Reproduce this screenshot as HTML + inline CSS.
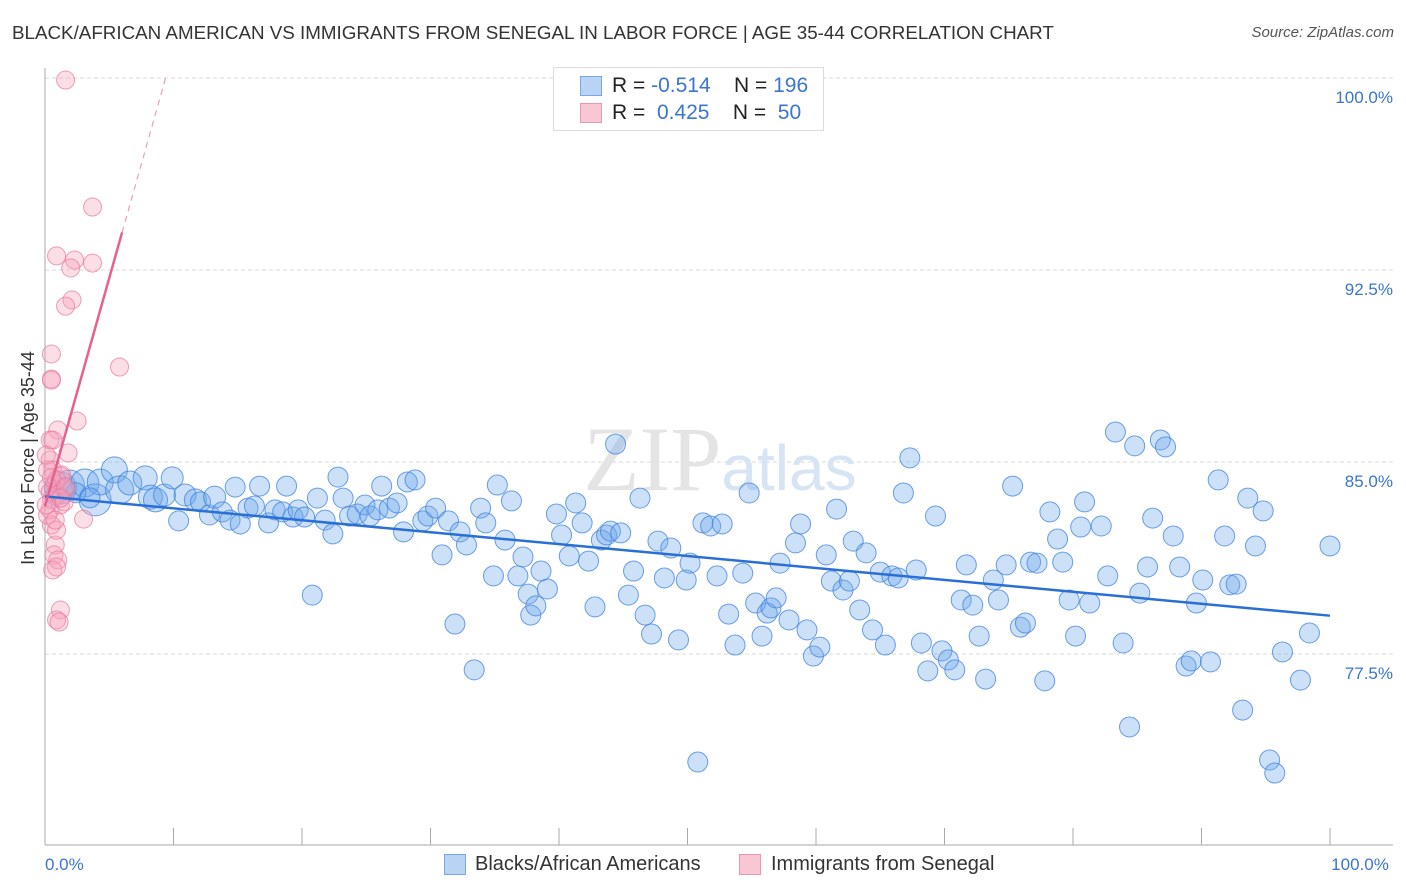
<!DOCTYPE html>
<html><head><meta charset="utf-8"><style>
body{margin:0;background:#fff;font-family:"Liberation Sans",sans-serif;}
#wrap{position:relative;width:1406px;height:892px;overflow:hidden;}
.t{position:absolute;white-space:nowrap;}
</style></head><body>
<div id="wrap">
<div class="t" style="left:12px;top:22px;font-size:18.8px;color:#333;">BLACK/AFRICAN AMERICAN VS IMMIGRANTS FROM SENEGAL IN LABOR FORCE | AGE 35-44 CORRELATION CHART</div>
<div class="t" style="right:12px;top:24px;font-size:15px;color:#555;font-style:italic;">Source: ZipAtlas.com</div>
<svg id="svg" width="1406" height="892" style="position:absolute;left:0;top:0"></svg>
</div>
<script>
const xTickLabels=["0.0%","100.0%"];
const yTicks=[100,92.5,85,77.5];
const yTickLabels=["100.0%","92.5%","85.0%","77.5%"];
const blueX=[1.2,1.9,3.1,3.9,4.3,5.4,5.8,6.6,7.8,8.2,8.6,9.3,9.9,10.4,10.9,11.7,12.1,12.8,13.2,13.8,14.4,14.8,15.2,15.8,16.3,16.7,17.4,17.9,18.5,18.8,19.3,19.7,20.2,20.8,21.2,21.8,22.4,22.8,23.2,23.7,24.3,24.9,25.3,25.9,26.2,26.8,27.4,27.9,28.2,28.8,29.4,29.8,30.4,30.9,31.4,31.9,32.3,32.8,33.4,33.9,34.3,34.9,35.2,35.8,36.3,36.8,37.2,37.6,37.8,38.2,38.6,39.1,39.8,40.2,40.8,41.3,41.8,42.3,42.8,43.3,43.7,44.0,44.4,44.8,45.4,45.8,46.3,46.7,47.2,47.7,48.2,48.7,49.3,49.9,50.2,50.8,51.2,51.8,52.3,52.7,53.2,53.7,54.3,54.8,55.3,55.8,56.2,56.5,56.9,57.2,57.9,58.4,58.8,59.3,59.8,60.3,60.8,61.2,61.6,62.1,62.6,62.9,63.4,63.9,64.4,65.0,65.4,65.9,66.4,66.8,67.3,67.8,68.2,68.7,69.3,69.8,70.3,70.8,71.3,71.7,72.2,72.7,73.2,73.8,74.2,74.8,75.3,75.9,76.3,76.7,77.2,77.8,78.2,78.8,79.2,79.7,80.2,80.9,81.3,80.6,82.2,82.7,83.3,83.9,84.4,84.8,85.2,85.8,86.2,86.8,87.2,87.8,88.3,88.8,89.2,89.6,90.1,90.7,91.3,91.8,92.2,92.7,93.2,93.6,94.2,94.8,95.3,95.7,96.3,97.7,98.4,100,0.8,1.5,2.4,3.5];
const blueY=[83.98,84.10,84.18,83.52,84.22,84.69,83.91,84.18,84.38,83.63,83.52,83.71,84.38,82.70,83.71,83.52,83.44,82.93,83.63,83.05,82.73,84.02,82.58,83.20,83.28,84.06,82.62,83.13,83.05,84.06,82.85,83.13,82.85,79.80,83.59,82.73,82.19,84.41,83.59,82.89,82.97,83.32,82.89,83.13,84.06,83.20,83.40,82.27,84.22,84.30,82.70,82.89,83.20,81.37,82.70,78.67,82.27,81.76,76.88,83.20,82.62,80.55,84.10,81.95,83.48,80.55,81.29,79.84,79.02,79.38,80.74,80.04,82.97,82.15,81.33,83.40,82.62,81.13,79.34,81.95,82.15,82.30,85.70,82.23,79.80,80.74,83.59,79.02,78.28,81.91,80.47,81.64,78.05,80.39,81.05,73.28,82.62,82.50,80.55,82.58,79.06,77.85,80.66,83.79,79.49,78.20,79.10,79.30,79.69,81.05,78.83,81.84,82.58,78.44,77.42,77.77,81.37,80.35,83.16,80.00,80.35,81.91,79.22,81.45,78.44,80.70,77.85,80.55,80.47,83.79,85.16,80.78,77.93,76.84,82.89,77.62,77.27,76.88,79.61,80.98,79.41,78.20,76.52,80.39,79.61,80.98,84.06,78.55,78.71,81.09,81.05,76.45,83.05,81.99,81.09,79.61,78.20,83.44,79.49,82.46,82.50,80.55,86.17,77.93,74.65,85.63,79.88,80.90,82.81,85.86,85.59,82.11,80.90,77.03,77.23,79.49,80.39,77.19,84.30,82.11,80.20,80.23,75.31,83.59,81.72,83.09,73.36,72.85,77.58,76.48,78.32,81.72,83.70,84.00,83.80,83.60];
const blueS=[16,15,14,16,13,13,14,12,12,12,12,11,11,10,11,11,10,10,11,10,10,10,10,10,10,10,10,10,10,10];
const pinkX=[1.6,3.7,0.9,2.3,3.7,2.0,2.1,1.6,5.8,0.5,0.5,0.5,2.5,1.0,0.4,1.8,0.4,0.6,1.2,0.8,0.2,1.0,1.6,0.5,1.2,0.4,3.0,0.5,0.8,0.7,1.0,0.6,0.9,1.2,0.9,1.1,0.2,1.3,0.9,0.4,1.6,1.5,0.2,0.9,0.6,0.1,1.2,0.5,0.1,0.8];
const pinkY=[99.92,94.96,93.05,92.89,92.77,92.58,91.33,91.09,88.71,89.22,88.24,88.20,86.60,86.25,85.86,85.35,85.08,84.69,84.45,84.14,84.02,83.71,83.91,83.52,83.32,83.13,82.77,82.54,81.76,81.37,81.17,80.78,80.90,79.22,78.83,78.75,84.69,84.49,84.30,83.83,84.02,83.44,82.93,82.34,85.86,85.27,83.59,84.38,83.32,82.73];
const NS="http://www.w3.org/2000/svg";
const svg=document.getElementById('svg');
const X0=45,X1=1330,YT=78,PPV=25.6;
function sx(v){return X0+(X1-X0)*v/100;}
function sy(v){return YT+(100-v)*PPV;}
function mk(tag,attrs,parent){const e=document.createElementNS(NS,tag);for(const k in attrs)e.setAttribute(k,attrs[k]);(parent||svg).appendChild(e);return e;}
yTicks.forEach((t,i)=>{
 const g=mk('line',{x1:X0,x2:1393,y1:sy(t),y2:sy(t),stroke:'#d8d8d8','stroke-dasharray':'4,3'});
 
 
 const tx=mk('text',{x:1393,y:sy(t)+25,'text-anchor':'end','font-size':17,fill:'#3a75d0','font-family':'Liberation Sans'});
 tx.textContent=yTickLabels[i];
 
 
});
const wm=mk('text',{x:720,y:490,'text-anchor':'middle','font-size':92,fill:'#e4e4e4','font-family':'Liberation Serif'});
wm.innerHTML='ZIP<tspan font-family="Liberation Sans" font-size="64" fill="#d6e4f4">atlas</tspan>';


const ya=mk('line',{x1:X0,x2:X0,y1:68,y2:845,stroke:'#aaa'});


const xa=mk('line',{x1:X0,x2:1393,y1:845,y2:845,stroke:'#aaa'});


for(let i=1;i<=10;i++){const tk=mk('line',{x1:sx(i*10),x2:sx(i*10),y1:828,y2:845,stroke:'#aaa'});
 
 }
[[0,'start'],[100,'middle']].forEach((p,i)=>{const tx=mk('text',{x:i?1360:45,y:870,'text-anchor':p[1],'font-size':17,fill:'#3a75d0','font-family':'Liberation Sans'});tx.textContent=xTickLabels[i];
 
 });
const yt=mk('text',{x:0,y:0,transform:'translate(34,458) rotate(-90)','text-anchor':'middle','font-size':18,fill:'#333','font-family':'Liberation Sans'});
yt.textContent='In Labor Force | Age 35-44';


blueX.forEach((x,i)=>{const c=mk('circle',{cx:sx(x),cy:sy(blueY[i]),r:blueS[i]||10,fill:'rgba(110,165,235,0.35)',stroke:'rgba(60,130,220,0.75)','stroke-width':1});
 
 });
pinkX.forEach((x,i)=>{const c=mk('circle',{cx:sx(x),cy:sy(pinkY[i]),r:9,fill:'rgba(245,160,185,0.35)',stroke:'rgba(230,120,155,0.7)','stroke-width':1});
 
 });
function reg(xs,ys){const n=xs.length;let mx=0,my=0;xs.forEach((x,i)=>{mx+=x;my+=ys[i];});mx/=n;my/=n;let a=0,b=0;xs.forEach((x,i)=>{a+=(x-mx)*(ys[i]-my);b+=(x-mx)*(x-mx);});const s=a/b;return [s,my-s*mx];}
const rb=reg(blueX,blueY);
const bl=mk('line',{x1:sx(0),y1:sy(rb[1]),x2:sx(100),y2:sy(rb[1]+rb[0]*100),stroke:'#2a6fd6','stroke-width':2.5});


const rp=reg(pinkX,pinkY);
const xe=(100-rp[1])/rp[0];
const pl=mk('line',{x1:sx(0),y1:sy(rp[1]),x2:sx(6),y2:sy(rp[1]+rp[0]*6),stroke:'#e8608f','stroke-width':2.5});


const pd=mk('line',{x1:sx(6),y1:sy(rp[1]+rp[0]*6),x2:sx(xe),y2:sy(100),stroke:'#e8a0b8','stroke-width':1.2,'stroke-dasharray':'6,5'});


</script>
<div style="position:absolute;left:553px;top:67px;width:269px;height:62px;border:1px solid #ddd;background:#fff;font-size:21px;">
 <div style="position:absolute;left:26px;top:8px;width:20px;height:18px;background:#b9d3f5;border:1px solid #7aa8e6;"></div>
 <div class="t" style="left:58px;top:6px;color:#222;">R = <span style="color:#3a75d0">-0.514</span>&nbsp;&nbsp;&nbsp; N = <span style="color:#3a75d0">196</span></div>
 <div style="position:absolute;left:26px;top:35px;width:20px;height:18px;background:#f9c6d4;border:1px solid #eb97b2;"></div>
 <div class="t" style="left:58px;top:33px;color:#222;">R = &nbsp;<span style="color:#3a75d0">0.425</span>&nbsp;&nbsp;&nbsp; N = &nbsp;<span style="color:#3a75d0">50</span></div>
</div>
<div style="position:absolute;left:0;top:852px;width:1406px;height:26px;font-size:20px;color:#333;">
 <div style="position:absolute;left:444px;top:2px;width:20px;height:19px;background:#b9d3f5;border:1px solid #7aa8e6;"></div>
 <div class="t" style="left:475px;top:1px;">Blacks/African Americans</div>
 <div style="position:absolute;left:739px;top:2px;width:20px;height:19px;background:#f9c6d4;border:1px solid #eb97b2;"></div>
 <div class="t" style="left:771px;top:1px;">Immigrants from Senegal</div>
</div>
</body></html>
